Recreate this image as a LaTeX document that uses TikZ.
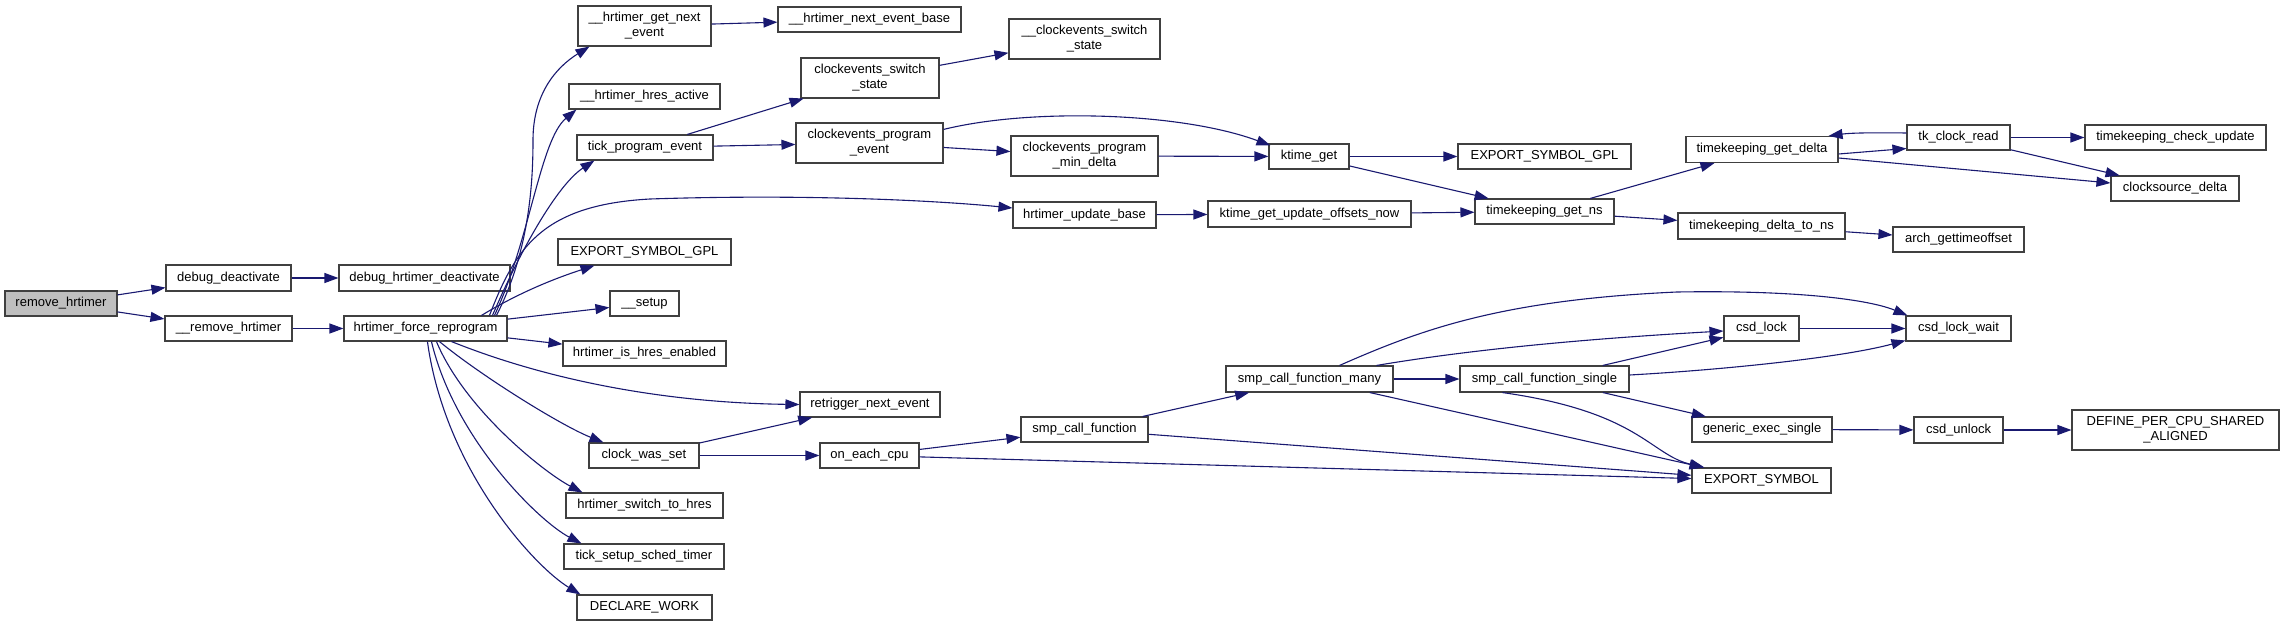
\documentclass[tikz,border=0pt]{standalone}
\usepackage{fontspec}
\setmainfont{Liberation Sans}
\usetikzlibrary{arrows.meta}
\definecolor{edgecol}{HTML}{191970}
\definecolor{rootfill}{HTML}{BFBFBF}
\definecolor{boxline}{HTML}{404040}
\begin{document}
\begin{tikzpicture}[x=1pt,y=-1pt,
 box/.style={draw=boxline, line width=1.1pt, fill=white, inner sep=0pt, align=center, font=\fontsize{13}{15}\selectfont},
 conn/.style={draw=edgecol, line width=1.1pt, -{Triangle[length=14pt,width=10pt]}}]
\useasboundingbox (0,0) rectangle (2284,626);
% nodes
\node[box, fill=rootfill, minimum width=112pt, minimum height=25pt] (rh) at (61,303.5) {remove\_hrtimer};
\node[box, minimum width=125pt, minimum height=26pt] (dd) at (228.5,278) {debug\_deactivate};
\node[box, minimum width=171pt, minimum height=26pt] (dhd) at (424.5,278) {debug\_hrtimer\_deactivate};
\node[box, minimum width=127pt, minimum height=25pt] (rmh) at (228.5,328.5) {\_\_remove\_hrtimer};
\node[box, minimum width=163pt, minimum height=25pt] (hfr) at (425.5,328.5) {hrtimer\_force\_reprogram};
\node[box, minimum width=133pt, minimum height=40pt] (hgne) at (644.5,26) {\_\_hrtimer\_get\_next\\\_event};
\node[box, minimum width=151pt, minimum height=25pt] (hha) at (644.5,96.5) {\_\_hrtimer\_hres\_active};
\node[box, minimum width=136pt, minimum height=25pt] (tpe) at (645,147.5) {tick\_program\_event};
\node[box, minimum width=173pt, minimum height=26pt] (esga) at (644.5,252) {EXPORT\_SYMBOL\_GPL};
\node[box, minimum width=69pt, minimum height=25pt] (setup) at (644.5,303.5) {\_\_setup};
\node[box, minimum width=163pt, minimum height=25pt] (hihe) at (644.5,353.5) {hrtimer\_is\_hres\_enabled};
\node[box, minimum width=110pt, minimum height=25pt] (cws) at (644,455.5) {clock\_was\_set};
\node[box, minimum width=157pt, minimum height=25pt] (hsth) at (644.5,505.5) {hrtimer\_switch\_to\_hres};
\node[box, minimum width=160pt, minimum height=25pt] (tsst) at (644,556.5) {tick\_setup\_sched\_timer};
\node[box, minimum width=135pt, minimum height=25pt] (dw) at (644.5,607.5) {DECLARE\_WORK};
\node[box, minimum width=183pt, minimum height=25pt] (hneb) at (869.5,19.5) {\_\_hrtimer\_next\_event\_base};
\node[box, minimum width=138pt, minimum height=40pt] (cess) at (870,78) {clockevents\_switch\\\_state};
\node[box, minimum width=147pt, minimum height=40pt] (cepe) at (869.5,143) {clockevents\_program\\\_event};
\node[box, minimum width=140pt, minimum height=25pt] (rne) at (870,404.5) {retrigger\_next\_event};
\node[box, minimum width=99pt, minimum height=25pt] (oec) at (869.5,455.5) {on\_each\_cpu};
\node[box, minimum width=151pt, minimum height=40pt] (ucss) at (1084.5,39) {\_\_clockevents\_switch\\\_state};
\node[box, minimum width=147pt, minimum height=40pt] (cpmd) at (1084.5,156) {clockevents\_program\\\_min\_delta};
\node[box, minimum width=143pt, minimum height=26pt] (hub) at (1084.5,215) {hrtimer\_update\_base};
\node[box, minimum width=127pt, minimum height=25pt] (scf) at (1084.5,429.5) {smp\_call\_function};
\node[box, minimum width=80pt, minimum height=25pt] (kg) at (1309,156.5) {ktime\_get};
\node[box, minimum width=203pt, minimum height=26pt] (kguon) at (1309.5,214) {ktime\_get\_update\_offsets\_now};
\node[box, minimum width=167pt, minimum height=26pt] (scfm) at (1309.5,379) {smp\_call\_function\_many};
\node[box, minimum width=173pt, minimum height=25pt] (esgb) at (1544.5,156.5) {EXPORT\_SYMBOL\_GPL};
\node[box, minimum width=139pt, minimum height=25pt] (tgn) at (1544.5,211.5) {timekeeping\_get\_ns};
\node[box, minimum width=169pt, minimum height=26pt] (scfs) at (1544.5,379) {smp\_call\_function\_single};
\node[box, minimum width=152pt, minimum height=26pt] (tgd) at (1762,149.5) {timekeeping\_get\_delta};
\node[box, minimum width=167pt, minimum height=26pt] (tdtn) at (1761.5,226) {timekeeping\_delta\_to\_ns};
\node[box, minimum width=75pt, minimum height=25pt] (csdl) at (1761.5,328.5) {csd\_lock};
\node[box, minimum width=140pt, minimum height=25pt] (ges) at (1762,429.5) {generic\_exec\_single};
\node[box, minimum width=139pt, minimum height=25pt] (es) at (1761.5,480.5) {EXPORT\_SYMBOL};
\node[box, minimum width=103pt, minimum height=25pt] (tcr) at (1958.5,137.5) {tk\_clock\_read};
\node[box, minimum width=131pt, minimum height=25pt] (ago) at (1958.5,239.5) {arch\_gettimeoffset};
\node[box, minimum width=105pt, minimum height=25pt] (clw) at (1958.5,328.5) {csd\_lock\_wait};
\node[box, minimum width=89pt, minimum height=26pt] (csdu) at (1958.5,430) {csd\_unlock};
\node[box, minimum width=181pt, minimum height=25pt] (tcu) at (2175.5,137.5) {timekeeping\_check\_update};
\node[box, minimum width=128pt, minimum height=25pt] (csd) at (2175,188.5) {clocksource\_delta};
\node[box, minimum width=207pt, minimum height=40pt] (dpcsa) at (2175.5,430) {DEFINE\_PER\_CPU\_SHARED\\\_ALIGNED};
% edges
\draw[conn] (rh) -- (dd);
\draw[conn] (rh) -- (rmh);
\draw[conn] (dd) -- (dhd);
\draw[conn] (rmh) -- (hfr);
\draw[conn] ([shift={(153,0)}]hfr.north west) .. controls (530,250) and (533,180) .. (533,140) .. controls (533,95) and (555,68) .. ([shift={(12,0)}]hgne.south west);
\draw[conn] ([shift={(151,0)}]hfr.north west) .. controls (530,240) and (540,140) .. ([shift={(8,0)}]hha.south west);
\draw[conn] ([shift={(149,0)}]hfr.north west) .. controls (525,240) and (560,183) .. ([shift={(18,0)}]tpe.south west);
\draw[conn] ([shift={(146,0)}]hfr.north west) .. controls (515,250) and (540,205) .. (650,199) .. controls (800,194) and (930,200) .. ([shift={(0,-7)}]hub.west);
\draw[conn] ([shift={(138,0)}]hfr.north west) .. controls (515,295) and (550,280) .. ([shift={(37,0)}]esga.south west);
\draw[conn] (hfr) -- (setup);
\draw[conn] (hfr) -- (hihe);
\draw[conn] ([shift={(108,0)}]hfr.south west) .. controls (560,385) and (680,403) .. (rne.west);
\draw[conn] ([shift={(96,0)}]hfr.south west) .. controls (480,375) and (560,425) .. ([shift={(15,0)}]cws.north west);
\draw[conn] ([shift={(93,0)}]hfr.south west) .. controls (465,410) and (545,473) .. ([shift={(17,0)}]hsth.north west);
\draw[conn] ([shift={(88,0)}]hfr.south west) .. controls (455,440) and (540,522) .. ([shift={(18,0)}]tsst.north west);
\draw[conn] ([shift={(84,0)}]hfr.south west) .. controls (445,470) and (535,567) .. ([shift={(4,0)}]dw.north west);
\draw[conn] (hgne) -- (hneb);
\draw[conn] (tpe) -- (cess);
\draw[conn] (tpe) -- (cepe);
\draw[conn] (cess) -- (ucss);
\draw[conn] ([shift={(0,7)}]cepe.north east) .. controls (1030,108) and (1180,112) .. ([shift={(2,2)}]kg.north west);
\draw[conn] (cepe) -- (cpmd);
\draw[conn] (cpmd) -- (kg);
\draw[conn] (kg) -- (esgb);
\draw[conn] (kg) -- (tgn);
\draw[conn] (hub) -- (kguon);
\draw[conn] (kguon) -- (tgn);
\draw[conn] (tgn) -- (tgd);
\draw[conn] (tgn) -- (tdtn);
\draw[conn] ([shift={(0,4.5)}]tgd.east) -- ([shift={(0,11)}]tcr.west);
\draw[conn] ([shift={(0,-4.5)}]tcr.west) .. controls (1870,132.5) and (1850,133) .. ([shift={(-10,0)}]tgd.north east);
\draw[conn] ([shift={(0,8.5)}]tgd.east) -- ([shift={(0,-5.5)}]csd.west);
\draw[conn] (tcr) -- (tcu);
\draw[conn] (tcr) -- (csd);
\draw[conn] (tdtn) -- (ago);
\draw[conn] (cws) -- (rne);
\draw[conn] (cws) -- (oec);
\draw[conn] (oec) -- (scf);
\draw[conn] (oec) -- (es);
\draw[conn] (scf) -- (scfm);
\draw[conn] (scf) -- (es);
\draw[conn] ([shift={(30,0)}]scfm.north) .. controls (1420,330) and (1500,300) .. (1677,292) .. controls (1800,290) and (1870,300) .. ([shift={(2,0)}]clw.north west);
\draw[conn] ([shift={(67,0)}]scfm.north) .. controls (1480,348) and (1600,338) .. ([shift={(0,2.5)}]csdl.west);
\draw[conn] (scfm) -- (scfs);
\draw[conn] (scfm) -- (es);
\draw[conn] (scfs) -- (csdl);
\draw[conn] ([shift={(0,-4)}]scfs.east) .. controls (1720,370) and (1840,358) .. ([shift={(0,12)}]clw.west);
\draw[conn] (scfs) -- (ges);
\draw[conn] ([shift={(43,0)}]scfs.south west) .. controls (1640,412) and (1650,455) .. ([shift={(13,0)}]es.north west);
\draw[conn] (csdl) -- (clw);
\draw[conn] (ges) -- (csdu);
\draw[conn] (csdu) -- (dpcsa);
\end{tikzpicture}
\end{document}
